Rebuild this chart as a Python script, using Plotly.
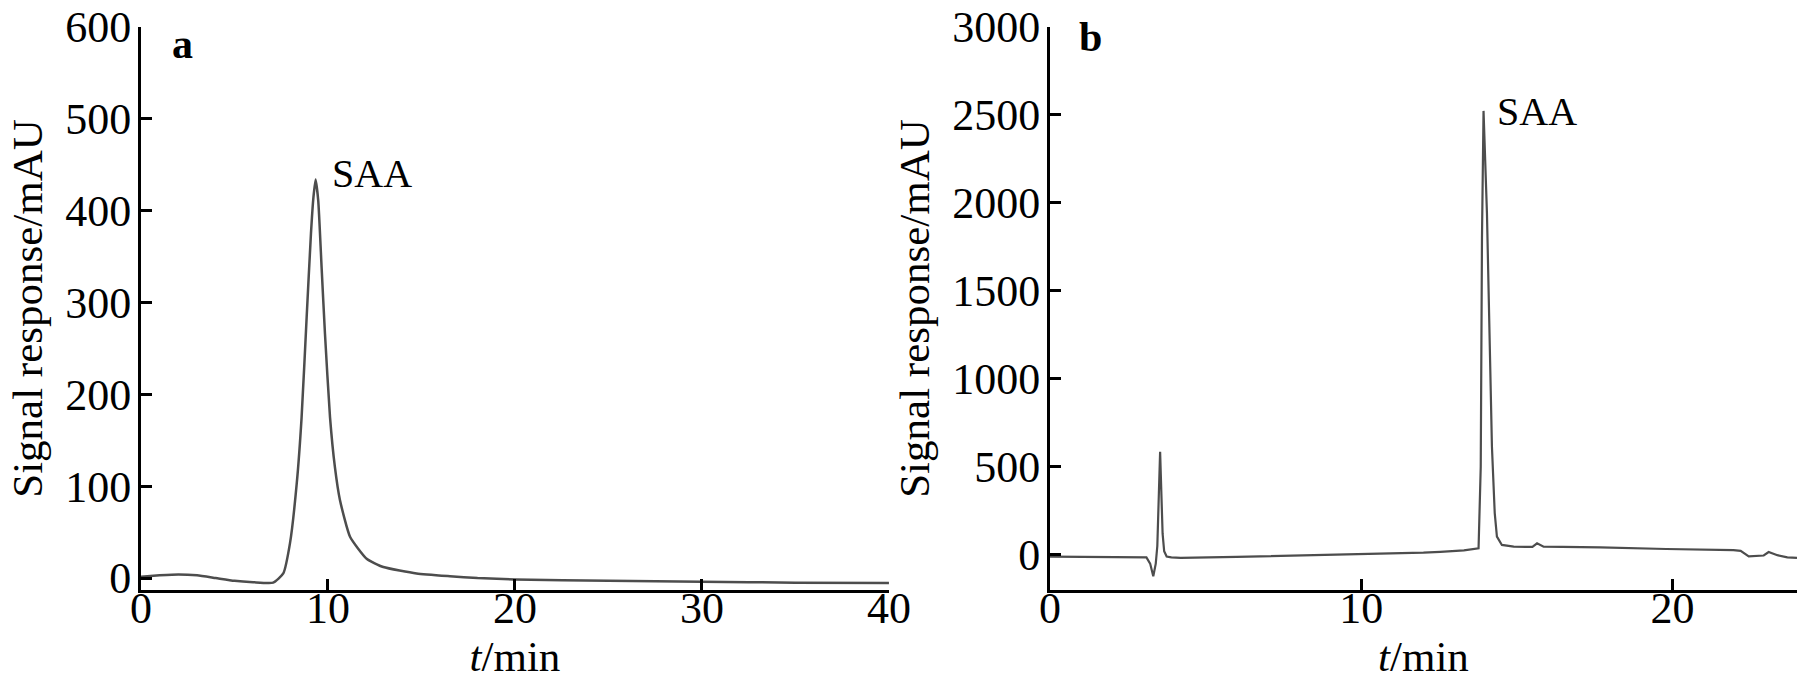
import plotly.graph_objects as go
from plotly.subplots import make_subplots

# panel a: chromatogram, 0-40 min
time_a = [0, 1, 2, 3, 4, 5, 6, 7.07, 7.61, 7.97, 8.33, 8.59, 8.86, 9.09, 9.22, 9.34,
          9.48, 9.66, 9.84, 10.11, 10.37, 10.64, 11.18, 12.07, 12.96, 14.74, 16.52,
          18, 20, 25, 30, 35, 40]
signal_a = [1.5, 3, 4, 3, 0, -3, -4.5, -5, 5, 38, 103, 175, 284, 375, 414, 434,
            411, 338, 266, 175, 121, 85, 45, 21, 12, 5, 2,
            0, -1.5, -3, -4, -5, -5.5]

# panel b: chromatogram, 0-24 min
time_b = [0, 1, 2, 3, 3.1, 3.22, 3.32, 3.4, 3.45, 3.5, 3.54, 3.58, 3.62, 3.67, 3.75,
          3.9, 4.2, 6, 8, 10, 11, 12, 12.54, 13.3, 13.77, 13.84, 13.88, 13.93,
          14.04, 14.13, 14.20, 14.29, 14.36, 14.52, 14.90, 15.5, 15.65, 15.86, 17.68,
          19.8, 21.96, 22.19, 22.45, 22.93, 23.09, 23.37, 23.69, 24.0]
signal_b = [-10, -11, -12, -14, -15, -50, -122, -50, 50, 350, 586, 350, 120, 20, -10,
            -15, -18, -12, -5, 3, 8, 12, 17, 25, 37, 500, 1800, 2523,
            1940, 1182, 614, 237, 103, 56, 46, 45, 65, 46, 42,
            33, 27, 22, -9, -4, 16, -2, -15, -17]

FONT = "Liberation Serif"
LINE = "#4d4d4d"
TICK_SIZE = 44
TITLE_SIZE = 43

fig = make_subplots(rows=1, cols=2)
fig.add_scatter(x=time_a, y=signal_a, mode="lines",
                line=dict(color=LINE, width=2.5, shape="spline", smoothing=0.5),
                showlegend=False, row=1, col=1)
fig.add_scatter(x=time_b, y=signal_b, mode="lines", line=dict(color=LINE, width=2.2),
                showlegend=False, row=1, col=2)

axis_style = dict(showline=True, linecolor="black", linewidth=3, ticks="inside",
                  ticklen=11, tickwidth=3, tickcolor="black", showgrid=False,
                  zeroline=False, automargin=False,
                  tickfont=dict(family=FONT, size=TICK_SIZE, color="black"))

fig.update_xaxes(**axis_style, ticklabelstandoff=-23)
fig.update_yaxes(**axis_style, ticklabelstandoff=-2)

xtitle = dict(text="<i>t</i>/min", font=dict(family=FONT, size=TITLE_SIZE, color="black"), standoff=10)
ytitle = dict(text="Signal response/mAU", font=dict(family=FONT, size=TITLE_SIZE, color="black"),
              standoff=10)

fig.update_xaxes(domain=[0.0775, 0.4887], range=[0, 40], tickvals=[0, 10, 20, 30, 40],
                 title=xtitle, row=1, col=1)
fig.update_xaxes(domain=[0.5772, 0.9879], range=[0, 24], tickvals=[0, 10, 20],
                 title=xtitle, row=1, col=2)
fig.update_yaxes(domain=[0.1387, 0.9606], range=[-13, 600],
                 tickvals=[0, 100, 200, 300, 400, 500, 600], title=ytitle, row=1, col=1)
fig.update_yaxes(domain=[0.1387, 0.9606], range=[-200, 3000],
                 tickvals=[0, 500, 1000, 1500, 2000, 2500, 3000], title=ytitle, row=1, col=2)

label_font = dict(family=FONT, size=42, color="black")
fig.add_annotation(x=2.2, y=582, xref="x", yref="y", text="<b>a</b>", showarrow=False,
                   font=label_font, xanchor="center", yanchor="middle")
fig.add_annotation(x=1.3, y=2941, xref="x2", yref="y2", text="<b>b</b>", showarrow=False,
                   font=label_font, xanchor="center", yanchor="middle")
fig.add_annotation(x=10.1, y=440, xref="x", yref="y", text="SAA", showarrow=False,
                   font=dict(family=FONT, size=40, color="black"), xanchor="left", yanchor="middle")
fig.add_annotation(x=14.3, y=2521, xref="x2", yref="y2", text="SAA", showarrow=False,
                   font=dict(family=FONT, size=40, color="black"), xanchor="left", yanchor="middle")

fig.update_layout(width=1819, height=685, margin=dict(l=0, r=0, t=0, b=0),
                  plot_bgcolor="white", paper_bgcolor="white")

# drop the browser's default body margin so the figure sits at the page origin
fig.write_html("out.html", config={"displayModeBar": False},
               post_script="document.body.style.margin = '0';")
